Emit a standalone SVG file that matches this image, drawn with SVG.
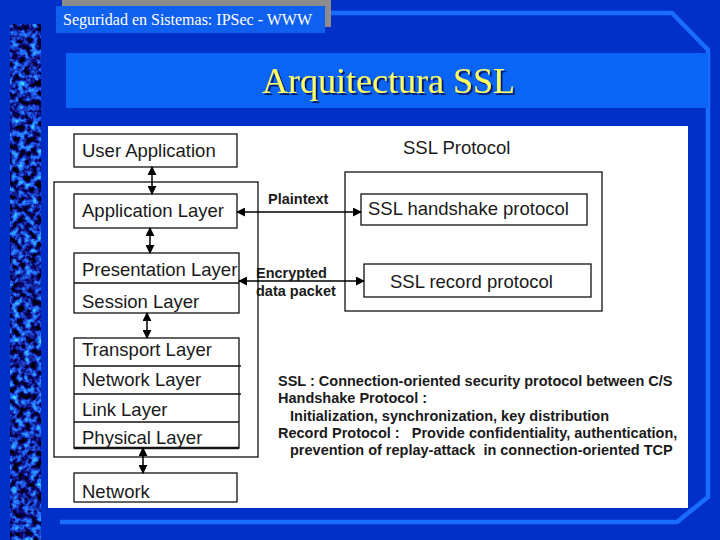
<svg xmlns="http://www.w3.org/2000/svg" width="720" height="540" viewBox="0 0 720 540">
  <defs>
    <filter id="tex" x="0" y="0" width="100%" height="100%" color-interpolation-filters="sRGB">
      <feTurbulence type="fractalNoise" baseFrequency="0.16" numOctaves="3" seed="7"/>
      <feColorMatrix type="matrix" values="0.4 0 0 0 -0.12  1.9 0 0 0 -0.78  2.8 0 0 0 -0.75  0 0 0 0 1"/>
    </filter>
    <filter id="shadow" x="-5%" y="-20%" width="110%" height="150%">
      <feDropShadow dx="2" dy="2" stdDeviation="0.6" flood-color="#001a70" flood-opacity="1"/>
    </filter>
    <marker id="ah" viewBox="0 0 10 10" refX="9" refY="5" markerWidth="9" markerHeight="9" markerUnits="userSpaceOnUse" orient="auto-start-reverse">
      <path d="M0,0 L10,5 L0,10 Z" fill="#000"/>
    </marker>
    <style>
      .box { fill: #fff; stroke: #111; stroke-width: 1.3; }
      .div { stroke: #111; stroke-width: 1.3; }
      .lbl { font-family: "Liberation Sans", Arial, sans-serif; font-size: 18.5px; fill: #1a1a1a; }
      .bold { font-family: "Liberation Sans", Arial, sans-serif; font-size: 14.5px; font-weight: bold; fill: #1a1a1a; }
      .conn { stroke: #000; stroke-width: 1.5; fill: none; marker-start: url(#ah); marker-end: url(#ah); }
      .hl { stroke: #1a6cff; stroke-width: 4.5; fill: none; }
    </style>
  </defs>

  <!-- background -->
  <rect x="0" y="0" width="720" height="540" fill="#0030c8"/>
  <rect x="10" y="24" width="31" height="516" filter="url(#tex)"/>

  <!-- header -->
  <g id="header">
    <rect x="62" y="-2" width="269" height="29" fill="#8c8c8c"/>
    <rect x="56" y="6" width="269" height="27" fill="#1060f0"/>
    <text x="63" y="25" font-family="Liberation Serif, 'Times New Roman', serif" font-size="16" fill="#fff">Seguridad en Sistemas: IPSec - WWW</text>
  </g>
  <path class="hl" d="M331,13 L672,13 L708,50 L708,497 L677,522 L60,522"/>

  <!-- title band -->
  <g id="title">
    <rect x="66" y="53" width="642" height="55" fill="#0a64f5"/>
    <text x="262" y="93" font-family="Liberation Serif, 'Times New Roman', serif" font-size="36" fill="#ffff60" filter="url(#shadow)">Arquitectura SSL</text>
  </g>

  <!-- white panel -->
  <rect x="48" y="126" width="640" height="382" fill="#fff"/>

  <g id="stack-frame"><rect class="box" x="54" y="182" width="204" height="275" fill="none"/></g>

  <g id="user-app">
    <rect class="box" x="74" y="134" width="163" height="33"/>
    <text class="lbl" x="82" y="157">User Application</text>
  </g>

  <g id="app-layer">
    <rect class="box" x="74" y="194" width="163" height="34"/>
    <text class="lbl" x="82" y="217">Application Layer</text>
  </g>

  <g id="pres-session">
    <rect class="box" x="74" y="253" width="165" height="60"/>
    <line class="div" x1="74" y1="283" x2="239" y2="283"/>
    <text class="lbl" x="82" y="276">Presentation Layer</text>
    <text class="lbl" x="82" y="308">Session Layer</text>
  </g>

  <g id="lower-stack">
    <rect class="box" x="74" y="338" width="165" height="110"/>
    <line class="div" x1="74" y1="366" x2="241" y2="366"/>
    <line class="div" x1="74" y1="394" x2="241" y2="394"/>
    <line class="div" x1="74" y1="422" x2="239" y2="422"/>
    <line x1="74" y1="448" x2="239" y2="448" stroke="#111" stroke-width="2.5"/>
    <text class="lbl" x="82" y="356">Transport Layer</text>
    <text class="lbl" x="82" y="386">Network Layer</text>
    <text class="lbl" x="82" y="416">Link Layer</text>
    <text class="lbl" x="82" y="444">Physical Layer</text>
  </g>

  <g id="network">
    <rect class="box" x="74" y="473" width="163" height="29"/>
    <text class="lbl" x="82" y="498">Network</text>
  </g>

  <g id="ssl-protocol">
    <text class="lbl" x="403" y="154">SSL Protocol</text>
    <rect class="box" x="345" y="172" width="257" height="139" fill="none"/>
  </g>

  <g id="ssl-handshake">
    <rect class="box" x="361" y="194" width="226" height="31"/>
    <text class="lbl" x="368" y="215">SSL handshake protocol</text>
  </g>

  <g id="ssl-record">
    <rect class="box" x="364" y="264" width="227" height="33"/>
    <text class="lbl" x="390" y="288">SSL record protocol</text>
  </g>

  <!-- connectors -->
  <g id="connectors">
    <line class="conn" x1="152" y1="167" x2="152" y2="194"/>
    <line class="conn" x1="150" y1="228" x2="150" y2="253"/>
    <line class="conn" x1="147" y1="313" x2="147" y2="338"/>
    <line class="conn" x1="143" y1="448" x2="143" y2="473"/>
    <line class="conn" x1="237" y1="212" x2="361" y2="212"/>
    <line class="conn" x1="239" y1="281" x2="364" y2="281"/>
    <text class="bold" x="268" y="204">Plaintext</text>
    <text class="bold" x="256" y="278">Encrypted</text>
    <text class="bold" x="256" y="296">data packet</text>
  </g>

  <g id="notes">
    <text class="bold" x="278" y="386">SSL : Connection-oriented security protocol between C/S</text>
    <text class="bold" x="278" y="403">Handshake Protocol :</text>
    <text class="bold" x="290" y="421">Initialization, synchronization, key distribution</text>
    <text class="bold" x="278" y="438" xml:space="preserve">Record Protocol :   Provide confidentiality, authentication,</text>
    <text class="bold" x="290" y="455" xml:space="preserve">prevention of replay-attack  in connection-oriented TCP</text>
  </g>
</svg>
